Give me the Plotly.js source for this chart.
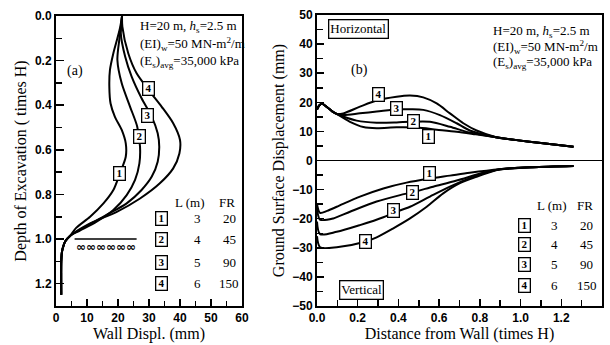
<!DOCTYPE html>
<html><head><meta charset="utf-8">
<script src="https://cdn.plot.ly/plotly-3.0.1.min.js"></script>
<style>body{margin:0;background:#fff}#chart{width:610px;height:345px}</style>
</head><body><div id="chart"></div>
<script>
// ---------- Panel (a): wall displacement (mm) vs depth (times H) ----------
const wallTailDispl = [4.6, 3.0, 2.3, 1.9, 1.7, 1.7];
const wallTailDepth = [0.985, 1.01, 1.035, 1.06, 1.10, 1.25];

const wall1Displ = [21.3, 20.7, 19.8, 18.5, 17.4, 17.2, 17.6, 19.0, 21.2, 22.5, 22.5, 20.6, 18.5, 15.3, 11.0, 6.5];
const wall1Depth = [0.0, 0.05, 0.10, 0.167, 0.242, 0.317, 0.392, 0.452, 0.511, 0.571, 0.631, 0.706, 0.78, 0.84, 0.90, 0.95];
const wall2Displ = [21.3, 20.9, 20.4, 19.8, 21.2, 23.9, 26.2, 27.1, 26.9, 25.5, 22.8, 18.5, 13.1, 7.7];
const wall2Depth = [0.0, 0.05, 0.108, 0.197, 0.302, 0.407, 0.496, 0.586, 0.661, 0.735, 0.803, 0.870, 0.922, 0.962];
const wall3Displ = [21.3, 21.1, 20.9, 22.3, 24.4, 27.6, 30.9, 32.8, 33.3, 32.8, 30.9, 27.6, 22.8, 16.3, 8.8];
const wall3Depth = [0.0, 0.04, 0.078, 0.182, 0.272, 0.369, 0.452, 0.526, 0.586, 0.653, 0.72, 0.78, 0.84, 0.892, 0.950];
const wall4Displ = [21.3, 21.4, 23.3, 26.0, 30.3, 34.1, 37.8, 40.0, 39.8, 37.8, 33.5, 27.1, 19.6, 11.0];
const wall4Depth = [0.0, 0.048, 0.167, 0.257, 0.339, 0.407, 0.481, 0.556, 0.616, 0.683, 0.75, 0.818, 0.878, 0.930];

// ---------- Panel (b): ground surface displacement (mm) vs distance (times H) ----------
const horHeadDist = [0.0, 0.012, 0.025, 0.05, 0.075, 0.097];
const horHeadDisp = [17.5, 19.0, 19.5, 18.3, 16.9, 16.0];
const horTailDist = [0.88, 0.98, 1.1, 1.26];
const horTailDisp = [8.0, 7.0, 6.0, 4.7];

const hor1Dist = [0.162, 0.228, 0.293, 0.391, 0.49, 0.588, 0.686, 0.78];
const hor1Disp = [13.3, 11.5, 11.1, 11.4, 11.3, 10.6, 9.9, 9.0];
const hor2Dist = [0.129, 0.195, 0.293, 0.391, 0.457, 0.555, 0.653, 0.75];
const hor2Disp = [15.1, 13.7, 13.0, 13.1, 13.3, 13.3, 11.6, 9.6];
const hor3Dist = [0.129, 0.211, 0.293, 0.395, 0.457, 0.522, 0.604, 0.686, 0.751];
const hor3Disp = [15.6, 16.2, 16.8, 17.6, 17.6, 17.4, 15.6, 12.8, 10.3];
const hor4Dist = [0.129, 0.211, 0.293, 0.391, 0.457, 0.522, 0.588, 0.653, 0.719, 0.784];
const hor4Disp = [16.2, 18.5, 20.6, 21.9, 22.3, 21.7, 19.6, 16.2, 12.8, 10.3];

const verTailDist = [0.9, 1.06, 1.26];
const verTailDisp = [-3.0, -2.3, -1.9];
const ver1Dist = [0.0, 0.015, 0.05, 0.097, 0.211, 0.326, 0.44, 0.555, 0.653, 0.75];
const ver1Disp = [-15.0, -18.0, -17.3, -15.9, -12.4, -9.6, -7.6, -6.2, -5.2, -4.2];
const ver2Dist = [0.0, 0.015, 0.08, 0.162, 0.293, 0.408, 0.47, 0.571, 0.686, 0.817];
const ver2Disp = [-16.0, -20.3, -19.9, -17.6, -14.1, -11.9, -10.9, -9.0, -6.9, -4.2];
const ver3Dist = [0.0, 0.015, 0.097, 0.211, 0.326, 0.375, 0.457, 0.555, 0.653, 0.751, 0.85];
const ver3Disp = [-21.0, -25.3, -24.5, -22.2, -19.5, -18.0, -15.9, -12.4, -9.0, -6.1, -3.8];
const ver4Dist = [0.0, 0.015, 0.097, 0.236, 0.293, 0.375, 0.457, 0.539, 0.62, 0.702, 0.784, 0.883];
const ver4Disp = [-26.0, -29.8, -29.8, -27.9, -26.4, -23.3, -19.9, -15.9, -11.3, -7.8, -5.6, -3.3];

// ---------- Legend table ----------
const caseIds = ["1", "2", "3", "4"];
const pileLength = ["3", "4", "5", "6"];
const flexRatio = ["20", "45", "90", "150"];

// curve label positions
const wallLabelDispl = [20.6, 26.9, 29.5, 29.8];
const wallLabelDepth = [0.706, 0.541, 0.444, 0.324];
const horLabelDist = [0.547, 0.475, 0.39, 0.30];
const horLabelDisp = [8.3, 13.5, 17.7, 22.8];
const verLabelDist = [0.555, 0.47, 0.375, 0.236];
const verLabelDisp = [-4.4, -10.9, -17.2, -27.9];

const SERIF = "Liberation Serif, Times New Roman, serif";
const SANS = "Liberation Sans, Arial, sans-serif";
const lineStyle = {color: "#000", width: 2, shape: "spline", smoothing: 0.8};

const traces = [];
const wallX = [wall1Displ, wall2Displ, wall3Displ, wall4Displ];
const wallY = [wall1Depth, wall2Depth, wall3Depth, wall4Depth];
for (let i = 0; i < 4; i++) {
  traces.push({x: wallX[i].concat(wallTailDispl), y: wallY[i].concat(wallTailDepth),
    xaxis: "x", yaxis: "y", mode: "lines", line: lineStyle, hoverinfo: "skip"});
}
const horX = [hor1Dist, hor2Dist, hor3Dist, hor4Dist];
const horY = [hor1Disp, hor2Disp, hor3Disp, hor4Disp];
for (let i = 0; i < 4; i++) {
  traces.push({x: horHeadDist.concat(horX[i], horTailDist), y: horHeadDisp.concat(horY[i], horTailDisp),
    xaxis: "x2", yaxis: "y2", mode: "lines", line: lineStyle, hoverinfo: "skip"});
}
const verX = [ver1Dist, ver2Dist, ver3Dist, ver4Dist];
const verY = [ver1Disp, ver2Disp, ver3Disp, ver4Disp];
for (let i = 0; i < 4; i++) {
  traces.push({x: verX[i].concat(verTailDist), y: verY[i].concat(verTailDisp),
    xaxis: "x2", yaxis: "y2", mode: "lines", line: lineStyle, hoverinfo: "skip"});
}

const ann = [];
function boxLabel(t, x, y, xr, yr) {
  ann.push({text: "\u2009" + t + "\u2009", x: x, y: y, xref: xr, yref: yr, showarrow: false,
    font: {family: SERIF, size: 11, color: "#000", weight: "bold"},
    bgcolor: "#fff", bordercolor: "#000", borderwidth: 1.3, borderpad: 0,
    xanchor: "center", yanchor: "middle"});
}
function txt(t, x, y, xr, yr, opts) {
  ann.push(Object.assign({text: t, x: x, y: y, xref: xr, yref: yr, showarrow: false,
    font: {family: SERIF, size: 13, color: "#000"}, xanchor: "left", yanchor: "middle"}, opts || {}));
}
for (let i = 0; i < 4; i++) {
  boxLabel(caseIds[i], wallLabelDispl[i], wallLabelDepth[i], "x", "y");
  boxLabel(caseIds[i], horLabelDist[i], horLabelDisp[i], "x2", "y2");
  boxLabel(caseIds[i], verLabelDist[i], verLabelDisp[i], "x2", "y2");
}
// parameter text
const paramLines = ["H=20 m, <i>h</i><sub>s</sub>=2.5 m", "(EI)<sub>w</sub>=50 MN-m<sup>2</sup>/m", "(E<sub>s</sub>)<sub>avg</sub>=35,000 kPa"];
const paramDepthA = [0.049, 0.126, 0.202];
const paramDispB = [44.3, 39.1, 33.6];
for (let i = 0; i < 3; i++) {
  txt(paramLines[i], 26.3, paramDepthA[i], "x", "y");
  txt(paramLines[i], 0.855, paramDispB[i], "x2", "y2");
}
txt("(a)", 6.1, 0.247, "x", "y", {xanchor: "center", font: {family: SERIF, size: 14, color: "#000"}});
txt("(b)", 0.211, 31.1, "x2", "y2", {xanchor: "center", font: {family: SERIF, size: 14, color: "#000"}});
txt("Horizontal", 0.206, 45.2, "x2", "y2", {xanchor: "center", bordercolor: "#000", borderwidth: 1.3, borderpad: 1, bgcolor: "#fff"});
txt("Vertical", 0.22, -44.5, "x2", "y2", {xanchor: "center", bordercolor: "#000", borderwidth: 1.3, borderpad: 1, bgcolor: "#fff"});

// legend tables
const tblA = {hdrY: 0.834, rows: [0.91, 1.004, 1.103, 1.197], box: 33.9, L: 45.5, FR: 55.8, hL: 42.9, hFR: 55.3, xr: "x", yr: "y"};
const tblB = {hdrY: -15.3, rows: [-22.2, -29.0, -35.9, -43.1], box: 1.017, L: 1.169, FR: 1.325, hL: 1.154, hFR: 1.316, xr: "x2", yr: "y2"};
[tblA, tblB].forEach(t => {
  txt("L (m)", t.hL, t.hdrY, t.xr, t.yr, {xanchor: "center"});
  txt("FR", t.hFR, t.hdrY, t.xr, t.yr, {xanchor: "center"});
  for (let i = 0; i < 4; i++) {
    boxLabel(caseIds[i], t.box, t.rows[i], t.xr, t.yr);
    txt(pileLength[i], t.L, t.rows[i], t.xr, t.yr, {xanchor: "center"});
    txt(flexRatio[i], t.FR, t.rows[i], t.xr, t.yr, {xanchor: "center"});
  }
});
// excavation base symbol
txt("<b>∞∞∞∞∞∞</b>", 16.0, 1.037, "x", "y", {xanchor: "center", font: {family: "DejaVu Sans", size: 12, color: "#000"}});

const tickFont = {family: SANS, size: 12, color: "#000", weight: "bold"};
const titleFont = {family: SERIF, size: 16, color: "#000"};
const axBase = {showline: true, linecolor: "#000", linewidth: 2, mirror: true, showgrid: false,
  ticks: "inside", tickcolor: "#000", tickwidth: 1.5, tickfont: tickFont, automargin: false, fixedrange: true};

const layout = {
  width: 610, height: 345,
  margin: {l: 56, r: 8, t: 15, b: 39},
  paper_bgcolor: "#fff", plot_bgcolor: "#fff",
  showlegend: false,
  xaxis: Object.assign({}, axBase, {domain: [0, 0.3407], range: [0, 60], tick0: 0, dtick: 10, ticklen: 7,
    minor: {dtick: 5, ticks: "inside", ticklen: 5, tickwidth: 1.5, tickcolor: "#000"}, zeroline: false,
    title: {text: "Wall Displ. (mm)", font: titleFont, standoff: 2}}),
  yaxis: Object.assign({}, axBase, {domain: [0, 0.9966], range: [1.3, 0], tick0: 0, dtick: 0.2, tickformat: ".1f", ticklen: 8,
    minor: {dtick: 0.1, ticks: "inside", ticklen: 6, tickwidth: 1.5, tickcolor: "#000"}, zeroline: false,
    title: {text: "Depth of Excavation ( times H)", font: titleFont, standoff: 4}}),
  xaxis2: Object.assign({}, axBase, {anchor: "y2", domain: [0.478, 1], range: [0, 1.4], tick0: 0, dtick: 0.2, tickformat: ".1f", ticklen: 7,
    minor: {dtick: 0.1, ticks: "inside", ticklen: 6, tickwidth: 1.5, tickcolor: "#000"}, zeroline: false,
    title: {text: "Distance from Wall (times H)", font: titleFont, standoff: 2}}),
  yaxis2: Object.assign({}, axBase, {anchor: "x2", domain: [0, 1], range: [-50, 50], tick0: 0, dtick: 10, ticklen: 7,
    minor: {dtick: 5, ticks: "inside", ticklen: 6, tickwidth: 1.5, tickcolor: "#000"},
    zeroline: true, zerolinecolor: "#000", zerolinewidth: 1.5,
    title: {text: "Ground Surface Displacement (mm)", font: titleFont, standoff: 4}}),
  annotations: ann,
  shapes: [{type: "line", xref: "x", yref: "y", x0: 6, x1: 26, y0: 1.0, y1: 1.0, line: {color: "#000", width: 1.5}}]
};

Plotly.newPlot("chart", traces, layout, {staticPlot: true, displayModeBar: false});
</script></body></html>
